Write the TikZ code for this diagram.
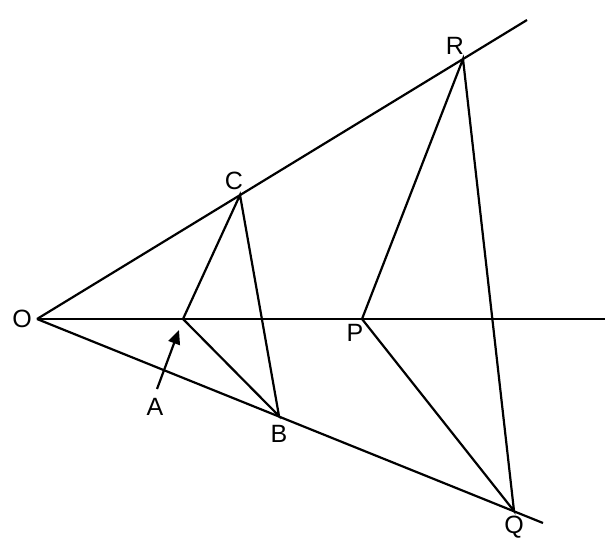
\documentclass[tikz,border=0pt]{standalone}
\usepackage{fontspec}
\setmainfont{Liberation Sans}
\usetikzlibrary{positioning, arrows.meta}

\begin{document}
\begin{tikzpicture}[
        x=0.5pt,
        y=-0.5pt,
        line width=1.1pt,
        every node/.style={font=\fontsize{12.5}{14}\selectfont, inner sep=1pt},
        >={Triangle[length=7pt, width=6pt]}
    ]
    \useasboundingbox (0,0) rectangle (613,544);

    \coordinate (o) at (37,319);
    \coordinate (up) at (527,20);
    \coordinate (mid) at (605,319);
    \coordinate (low) at (543,523);
    \coordinate (a) at (183,319);
    \coordinate (c) at (240,195);
    \coordinate (b) at (279,416);
    \coordinate (p) at (362,319);
    \coordinate (r) at (463,59);
    \coordinate (q) at (514,511);
    \coordinate (tail) at (157,389);
    \coordinate (tip) at (179,330);

    % the three rays
    \draw (o) -- (up);
    \draw (o) -- (mid);
    \draw (o) -- (low);

    % triangles
    \draw (a) -- (c) -- (b) -- cycle;
    \draw (p) -- (r) -- (q) -- cycle;

    \draw[->] (tail) -- (tip);

    \node (lo) at (22,319) {O};
    \node (lc) at (234,181) {C};
    \node (lb) at (279,434) {B};
    \node (lp) at (355,333) {P};
    \node (lr) at (455,46) {R};
    \node (lq) at (514,527) {Q};
    \node (la) at (155,407) {A};
\end{tikzpicture}
\end{document}
